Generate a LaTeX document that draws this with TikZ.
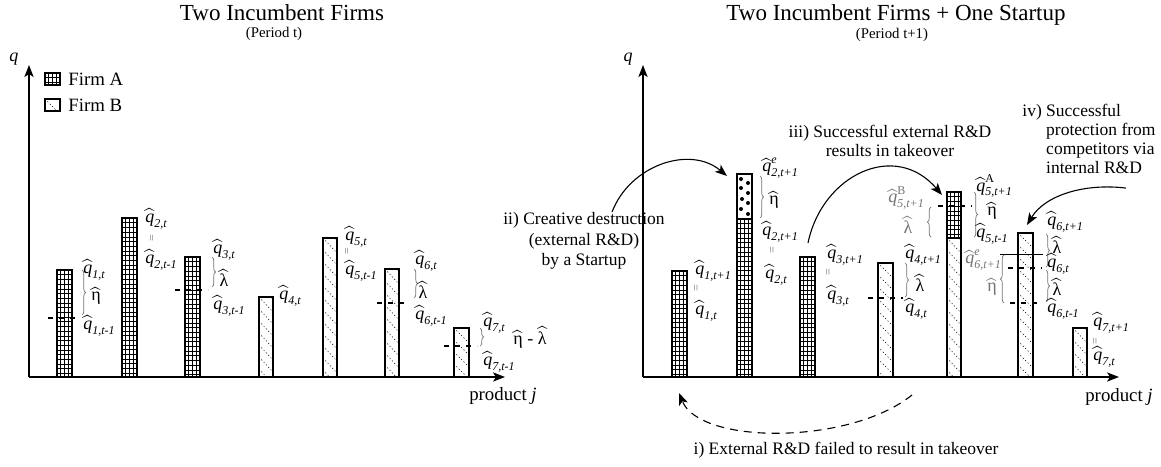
\documentclass[tikz,border=0pt]{standalone}
\usepackage{amsmath}
\usepackage{fontspec}
\setmainfont{Liberation Serif}
\usetikzlibrary{arrows.meta,decorations.pathreplacing}

\newcommand{\lblfont}{\fontsize{9}{10}\selectfont}
\newcommand{\legfont}{\fontsize{9.4}{11}\selectfont}
\newcommand{\notefont}{\fontsize{8.75}{9.5}\selectfont}
\newcommand{\titlefont}{\fontsize{11.5}{13}\selectfont}
\newcommand{\subfont}{\fontsize{7.4}{9}\selectfont}

\newcommand{\qh}[1]{$\widehat{\textit{q}}_{\textit{#1}}$}
\newcommand{\qhs}[2]{$\widehat{\textit{q}}^{#1}_{\textit{#2}}$}
\newcommand{\etah}{$\widehat{\text{η}}$}
\newcommand{\lamh}{$\widehat{\text{λ}}$}

% fills: left, right, top, bottom (pixel units)
\newcommand{\gridfill}[4]{%
  \begin{scope}
    \clip (#1,#3) rectangle (#2,#4);
    \foreach \k in {1,...,36} {\draw[hair] (#1,#3+\k*4.7) -- (#2,#3+\k*4.7);}
    \foreach \k in {1,2,3} {\draw[hair] (#1+\k*3.7,#3) -- (#1+\k*3.7,#4);}
  \end{scope}}
\newcommand{\hatchfill}[4]{%
  \begin{scope}
    \clip (#1,#3) rectangle (#2,#4);
    \foreach \k in {-2,...,14} {\draw[hair,dotline] (#1,#3+\k*12) -- (#2,#3+\k*12+15);}
  \end{scope}}
\newcommand{\startupfill}[2]{%
  \foreach \dx/\dy in {4/5,11/9,4/14,11/19,5/25,11/29,4/35,11/40}
    {\fill (#1+\dx,#2+\dy) circle[radius=1pt];}}
\newcommand{\barA}[3]{\gridfill{#1}{#2}{#3}{377}\draw[bar] (#1,#3) rectangle (#2,377);}
\newcommand{\barB}[3]{\hatchfill{#1}{#2}{#3}{377}\draw[bar] (#1,#3) rectangle (#2,377);}

\begin{document}
\begin{tikzpicture}[x=0.5pt,y=-0.5pt,
  hair/.style={line width=0.25pt},
  dotline/.style={dash pattern=on 0.6pt off 1.1pt},
  bar/.style={line width=0.65pt},
  axis/.style={line width=0.8pt,-{Stealth[length=6pt,width=4.6pt,inset=1.5pt]}},
  level/.style={line width=0.55pt,dash pattern=on 2.5pt off 3pt},
  gbrace/.style={decorate,decoration={brace,amplitude=1.8pt},black!55,line width=0.35pt},
  lbl/.style={anchor=west,inner sep=0pt,font=\lblfont},
  glbl/.style={lbl,text=black!55},
  sym/.style={inner sep=0pt,font=\lblfont},
  gsym/.style={sym,text=black!55},
  eqsign/.style={rotate=90,inner sep=0pt,text=black!55,font=\fontsize{6}{6}\selectfont},
  note/.style={align=center,inner sep=0pt,font=\notefont},
  flow/.style={line width=0.55pt,-{Stealth[length=6pt,width=4.6pt,inset=1.5pt]}},
  ]
\useasboundingbox (0,0) rectangle (1161,466);

% titles
\node[font=\titlefont,anchor=base] (titleL) at (282,20) {Two Incumbent Firms};
\node[font=\subfont,anchor=base] (subL) at (274,37) {(Period t)};
\node[font=\titlefont,anchor=base] (titleR) at (896,20) {Two Incumbent Firms + One Startup};
\node[font=\subfont,anchor=base] (subR) at (892,38) {(Period t+1)};

% legend
\gridfill{45}{60}{73}{85}\draw[bar] (45,73) rectangle (60,85);
\hatchfill{45}{60}{99}{111}\draw[bar] (45,99) rectangle (60,111);
\node[lbl,font=\legfont] (legA) at (68,79) {Firm A};
\node[lbl,font=\legfont] (legB) at (68,105) {Firm B};

% period t
\foreach \l/\r/\t in {57/72/270,122/137/218,185/200/257} {\barA{\l}{\r}{\t}}
\foreach \l/\r/\t in {259/273/297,323/337/238,385/399/269,454/469/328} {\barB{\l}{\r}{\t}}
\draw[level] (48,318) -- (80,318);
\draw[level] (175,290) -- (208,290);
\draw[level] (377,303) -- (409,303);
\draw[level] (444,346) -- (477,346);
\draw[gbrace] (82,270) -- (82,315);
\draw[gbrace] (212,257) -- (212,287);
\draw[gbrace] (414,269) -- (414,298);
\draw[gbrace] (480,328) -- (480,346);

\node[lbl] (q1t) at (83,270) {\qh{1,t}};
\node[sym] (eta1) at (96,296) {\etah};
\node[lbl] (q1tm) at (83,326) {\qh{1,t-1}};
\node[lbl] (q2t) at (145,219) {\qh{2,t}};
\node[eqsign] (eq2) at (153,238) {=};
\node[lbl] (q2tm) at (145,260) {\qh{2,t-1}};
\node[lbl] (q3t) at (213,250) {\qh{3,t}};
\node[sym] (lam3) at (224,278) {\lamh};
\node[lbl] (q3tm) at (213,306) {\qh{3,t-1}};
\node[lbl] (q4t) at (279,296) {\qh{4,t}};
\node[lbl] (q5t) at (345,237) {\qh{5,t}};
\node[eqsign] (eq5) at (348,251) {=};
\node[lbl] (q5tm) at (345,271) {\qh{5,t-1}};
\node[lbl] (q6t) at (415,261) {\qh{6,t}};
\node[sym] (lam6) at (423,290) {\lamh};
\node[lbl] (q6tm) at (415,316) {\qh{6,t-1}};
\node[lbl] (q7t) at (483,323) {\qh{7,t}};
\node[lbl] (gap7) at (513,337) {\etah{} - \lamh};
\node[lbl] (q7tm) at (483,362) {\qh{7,t-1}};

\draw[axis] (29,377) -- (29,65);
\draw[axis] (29,377) -- (505,377);
\node[font=\lblfont\itshape,inner sep=0pt] (qL) at (14,59) {q};
\node[font=\legfont] (jL) at (503,396) {product \textit{j}};

% period t+1
\barA{672}{687}{271}
\coordinate (R1in) at (679,393);
\gridfill{737}{752}{219}{377}\startupfill{737}{174}
\draw[bar] (737,174) rectangle (752,377);
\draw[bar] (737,219) -- (752,219);
\coordinate (R2in) at (727,176);
\barA{800}{815}{257}
\coordinate (R3out) at (808,243);
\barB{878}{893}{263}
\coordinate (R4out) at (912,395);
\gridfill{947}{961}{192}{238}\hatchfill{947}{961}{238}{377}
\draw[bar] (947,192) rectangle (961,377);
\draw[bar] (947,238) -- (961,238);
\coordinate (R5in) at (942,195);
\barB{1018}{1033}{233}
\coordinate (R6in) at (1027,225);
\barB{1073}{1087}{328}

\draw[level] (868,298) -- (903,298);
\draw[level] (938,206) -- (972,206);
\draw[line width=0.4pt] (1000,254) -- (1043,254);
\draw[level] (1008,268) -- (1042,268);
\draw[level] (1010,303) -- (1042,303);

\draw[gbrace] (760,176) -- (760,218);
\draw[gbrace] (905,263) -- (905,297);
\draw[gbrace] (974,192) -- (974,237);
\draw[gbrace] (931,237) -- (931,207);
\draw[gbrace] (1046,234) -- (1046,267);
\draw[gbrace] (1046,270) -- (1046,302);
\draw[gbrace] (1004,303) -- (1004,255);

\node[lbl] (p1) at (695,271) {\qh{1,t+1}};
\node[eqsign] (e1) at (697,288) {=};
\node[lbl] (c1) at (695,311) {\qh{1,t}};
\node[lbl] (p2e) at (762,168) {\qhs{\textit{e}}{2,t+1}};
\node[sym] (eta2) at (774,200) {\etah};
\node[lbl] (p2) at (762,232) {\qh{2,t+1}};
\node[eqsign] (e2) at (773,250) {=};
\node[lbl] (c2) at (765,275) {\qh{2,t}};
\node[lbl] (p3) at (827,255) {\qh{3,t+1}};
\node[eqsign] (e3) at (829,272) {=};
\node[lbl] (c3) at (827,296) {\qh{3,t}};
\node[lbl] (p4) at (905,255) {\qh{4,t+1}};
\node[sym] (lam4) at (920,283) {\lamh};
\node[lbl] (c4) at (905,309) {\qh{4,t}};
\node[lbl] (p5A) at (976,186) {\qhs{\text{A}}{5,t+1}};
\node[sym] (eta5) at (992,211) {\etah};
\node[lbl] (m5) at (976,234) {\qh{5,t-1}};
\node[glbl] (p5B) at (888,198) {\qhs{\text{B}}{5,t+1}};
\node[gsym] (lam5) at (908,225) {\lamh};
\node[lbl] (p6) at (1047,222) {\qh{6,t+1}};
\node[sym] (lam6a) at (1057,245) {\lamh};
\node[lbl] (c6) at (1047,264) {\qh{6,t}};
\node[sym] (lam6b) at (1057,287) {\lamh};
\node[lbl] (m6) at (1047,309) {\qh{6,t-1}};
\node[glbl] (p6e) at (965,260) {\qhs{\textit{e}}{6,t+1}};
\node[gsym] (eta6) at (992,287) {\etah};
\node[lbl] (p7) at (1093,323) {\qh{7,t+1}};
\node[eqsign] (e7) at (1096,341) {=};
\node[lbl] (c7) at (1093,357) {\qh{7,t}};

\draw[axis] (643,377) -- (643,65);
\draw[axis] (643,377) -- (1119,377);
\node[font=\lblfont\itshape,inner sep=0pt] (qR) at (628,59) {q};
\node[font=\legfont] (jR) at (1119,397) {product \textit{j}};

% notes and arrows
\node[note,font=\fontsize{8.75}{10.3}\selectfont] (ii) at (584,241) {ii) Creative destruction\\(external R\&D)\\by a Startup};
\node[note] (iii) at (890,141) {iii) Successful external R\&D\\results in takeover};
\node[inner sep=0pt,font=\notefont,anchor=base west] (iv) at (1022,116)
  {iv) \begin{tabular}[t]{@{}l@{}}Successful\\protection from\\competitors via\\internal R\&D\end{tabular}};
\node[note] (i) at (846,450) {i) External R\&D failed to result in takeover};

\draw[flow] ([xshift=14pt]ii.north) .. controls (630,165) and (690,145) .. (R2in);
\draw[flow] (R3out) .. controls (822,175) and (895,140) .. (R5in);
\draw[flow] ([xshift=-15pt,yshift=-4.5pt]iv.south east) .. controls (1085,183) and (1045,195) .. (R6in);
\draw[flow,dash pattern=on 4pt off 3pt] (R4out) .. controls (850,445) and (700,445) .. (R1in);
\end{tikzpicture}
\end{document}
